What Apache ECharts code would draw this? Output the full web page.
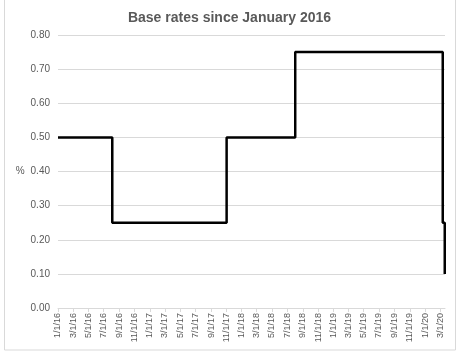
<!DOCTYPE html>
<html>
<head>
<meta charset="utf-8">
<script src="https://cdn.jsdelivr.net/npm/echarts@6/dist/echarts.min.js"></script>
<style>
  html, body { margin: 0; padding: 0; background: #fff; }
  #chart { width: 459px; height: 353px; }
</style>
</head>
<body>
<div id="chart"></div>
<script>
  // dates when the base rate changed, and the rate from that date
  var changeDates = ['2016-01-01', '2016-08-04', '2017-11-02', '2018-08-02', '2020-03-11', '2020-03-19'];
  var rates = [0.50, 0.25, 0.50, 0.75, 0.25, 0.10];
  // tick labels: 1st of every other month
  var tickDates = [
    '2016-01-01', '2016-03-01', '2016-05-01', '2016-07-01', '2016-09-01', '2016-11-01',
    '2017-01-01', '2017-03-01', '2017-05-01', '2017-07-01', '2017-09-01', '2017-11-01',
    '2018-01-01', '2018-03-01', '2018-05-01', '2018-07-01', '2018-09-01', '2018-11-01',
    '2019-01-01', '2019-03-01', '2019-05-01', '2019-07-01', '2019-09-01', '2019-11-01',
    '2020-01-01', '2020-03-01'
  ];

  // day number since 2016-01-01
  var DAY = 86400000;
  var origin = Date.UTC(2016, 0, 1);
  function dayNo(s) {
    var p = s.split('-');
    return (Date.UTC(+p[0], +p[1] - 1, +p[2]) - origin) / DAY;
  }

  var ticks = tickDates.map(dayNo);
  var seriesData = changeDates.map(function (d, i) { return [dayNo(d), rates[i]]; });

  var chart = echarts.init(document.getElementById('chart'));
  var txt = '#595959';
  var option = {
    animation: false,
    title: {
      text: 'Base rates since January 2016',
      left: 'center',
      top: 6,
      textStyle: { fontFamily: 'Liberation Sans', fontSize: 14, fontWeight: 'bold', color: txt }
    },
    graphic: [{
      type: 'rect',
      shape: { x: 4.5, y: -2, width: 451, height: 352 },
      style: { fill: 'none', stroke: '#d9d9d9', lineWidth: 1 },
      silent: true
    }],
    grid: { left: 58, right: 14, top: 35, bottom: 45 },
    xAxis: {
      type: 'value',
      min: 0,
      max: dayNo('2020-03-20'),
      splitLine: { show: false },
      axisLine: { lineStyle: { color: '#d9d9d9' } },
      axisTick: { show: true, customValues: ticks, length: 4, lineStyle: { color: '#d9d9d9' } },
      axisLabel: {
        customValues: ticks,
        rotate: 90,
        margin: 5,
        fontFamily: 'Liberation Sans',
        fontSize: 9,
        color: txt,
        formatter: function (v) {
          var d = new Date(origin + v * DAY);
          return (d.getUTCMonth() + 1) + '/' + d.getUTCDate() + '/' + String(d.getUTCFullYear()).slice(2);
        }
      }
    },
    yAxis: {
      type: 'value',
      min: 0,
      max: 0.8,
      interval: 0.1,
      name: '%',
      nameLocation: 'middle',
      nameRotate: 0,
      nameGap: 30,
      nameTextStyle: { fontFamily: 'Liberation Sans', fontSize: 10, color: txt },
      axisLine: { show: false },
      axisTick: { show: false },
      axisLabel: {
        margin: 8,
        fontFamily: 'Liberation Sans',
        fontSize: 10,
        color: txt,
        formatter: function (v) { return v.toFixed(2); }
      },
      splitLine: { lineStyle: { color: '#d9d9d9' } }
    },
    series: [{
      type: 'line',
      step: 'end',
      data: seriesData,
      showSymbol: false,
      lineStyle: { color: '#000', width: 2.5 }
    }]
  };
  chart.setOption(option);
</script>
</body>
</html>
